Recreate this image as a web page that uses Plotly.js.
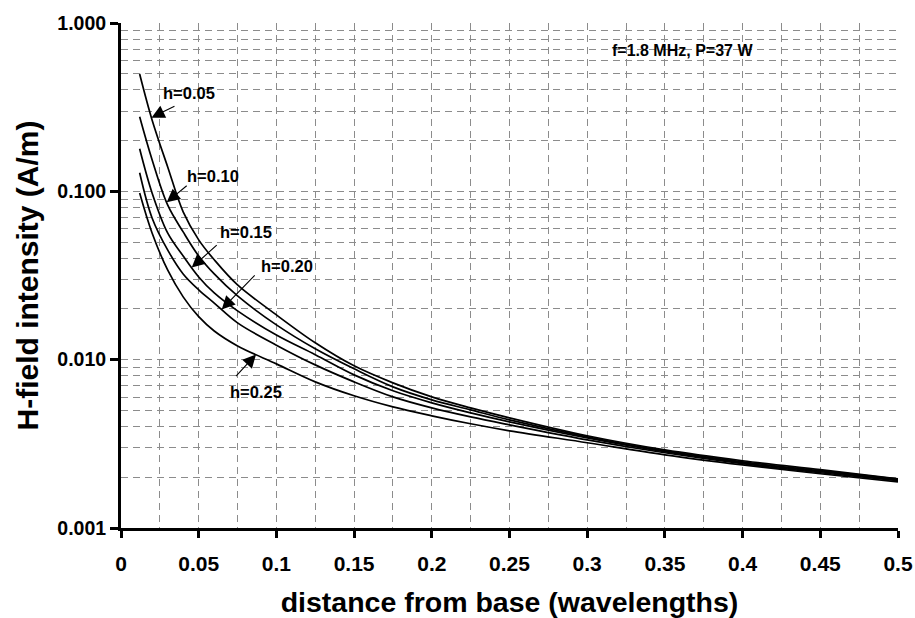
<!DOCTYPE html>
<html>
<head>
<meta charset="utf-8">
<script src="https://cdn.plot.ly/plotly-3.0.1.min.js"></script>
<style>html,body{margin:0;padding:0;background:#fff;}#chart{width:915px;height:618px;}</style>
</head>
<body>
<div id="chart"></div>
<script>
// distance from base (wavelengths)
const distance = [0.012,0.02,0.03,0.04,0.05,0.06,0.075,0.1,0.125,0.15,0.175,0.2,0.225,0.25,0.3,0.35,0.4,0.45,0.5];
// H-field intensity (A/m) for each height h (wavelengths)
const h005 = [0.498,0.2655,0.1400,0.0755,0.0515,0.0392,0.0278,0.01845,0.0126,0.00919,0.00728,0.00601,0.00517,0.00451,0.00353,0.00291,0.00251,0.00222,0.00196];
const h010 = [0.277,0.154,0.0830,0.0574,0.0413,0.0323,0.0239,0.01609,0.0116,0.00882,0.00689,0.00577,0.00503,0.00439,0.00348,0.00287,0.00247,0.00219,0.00195];
const h015 = [0.179,0.0978,0.0566,0.0413,0.0310,0.0249,0.0195,0.0140,0.0107,0.00812,0.00653,0.00554,0.00483,0.00427,0.00343,0.00284,0.00244,0.00216,0.00193];
const h020 = [0.129,0.0695,0.0449,0.0323,0.0260,0.0217,0.01654,0.0122,0.00931,0.00738,0.00601,0.00517,0.00457,0.00410,0.00334,0.00280,0.00241,0.00213,0.00191];
const h025 = [0.0978,0.0566,0.0341,0.0236,0.0180,0.0148,0.01207,0.00944,0.00738,0.00610,0.00524,0.00464,0.00416,0.00378,0.00321,0.00272,0.00237,0.00210,0.00188];

const seriesNames = ['h=0.05','h=0.10','h=0.15','h=0.20','h=0.25'];
const seriesData = [h005,h010,h015,h020,h025];
// x where each label's arrow meets its curve
const labelAt = [0.0196,0.0294,0.0455,0.0648,0.0869];

const yTickVals = [0.001,0.01,0.1,1];
const yTickText = ['0.001','0.010','0.100','1.000'];
const yMinorVals = [];
[0.001,0.01,0.1].forEach(function(d){for(let k=2;k<=9;k++){yMinorVals.push(d*k);}});

const FONT = 'Liberation Sans, Arial, Helvetica, sans-serif';
const GRID = 'rgb(140,140,140)';
const GDASH = '7px,5px';

function interpLog(xs, ys, x){
  for(let i=0;i<xs.length-1;i++){
    if(x>=xs[i] && x<=xs[i+1]){
      const t=(x-xs[i])/(xs[i+1]-xs[i]);
      return Math.pow(10, Math.log10(ys[i])*(1-t)+Math.log10(ys[i+1])*t);
    }
  }
  return ys[0];
}

const traces = seriesData.map(function(ys,i){
  return {x: distance, y: ys, type:'scatter', mode:'lines', name: seriesNames[i],
    line:{color:'#000', width:1.7, shape:'spline', smoothing:1}, showlegend:false, hoverinfo:'skip'};
});

// arrow tails (px offsets from tip) and text offsets
const arrowOff = [[26,-13],[23,-19],[28,-25],[36,-37],[-23,25]];
const textOff = [[38,25],[46,26],[54,36],[65,43],[0,-38]];

const annotations = [];
seriesNames.forEach(function(name,i){
  const xv = labelAt[i];
  const yv = interpLog(distance, seriesData[i], xv);
  annotations.push({x:xv, y:Math.log10(yv), xref:'x', yref:'y', text:' ', showarrow:true,
    ax:arrowOff[i][0], ay:arrowOff[i][1], arrowhead:2, arrowsize:2.4, arrowwidth:1.1, arrowcolor:'#000', standoff:0});
  annotations.push({x:xv, y:Math.log10(yv), xref:'x', yref:'y', text:name, showarrow:false,
    xshift:textOff[i][0], yshift:textOff[i][1], font:{family:FONT, size:16.5, color:'#000', weight:'bold'}});
});
annotations.push({x:0.6293, y:0.9465, xref:'paper', yref:'paper', xanchor:'left', yanchor:'middle',
  text:'f=1.8 MHz, P=37 W', showarrow:false, font:{family:FONT, size:16, color:'#000', weight:'bold'}});

const layout = {
  width:915, height:618,
  margin:{l:121, r:17, t:23, b:90},
  paper_bgcolor:'#fff', plot_bgcolor:'#fff',
  font:{family:FONT, color:'#000'},
  xaxis:{
    range:[0,0.5], tick0:0, dtick:0.05, ticks:'outside', ticklen:7, tickwidth:3, tickcolor:'#000',
    showline:true, linewidth:3, linecolor:'#000', zeroline:false,
    showgrid:true, gridcolor:GRID, gridwidth:1, griddash:GDASH,
    minor:{dtick:0.025, showgrid:true, gridcolor:GRID, gridwidth:1, griddash:GDASH, ticks:''},
    tickfont:{family:FONT, size:21, color:'#000', weight:'bold'}, ticklabelstandoff:8,
    title:{text:'distance from base (wavelengths)', font:{family:FONT, size:28.5, color:'#000', weight:'bold'}, standoff:20}
  },
  yaxis:{
    type:'log', range:[-3,0], tickmode:'array', tickvals:yTickVals, ticktext:yTickText,
    ticks:'outside', ticklen:8, tickwidth:3, tickcolor:'#000',
    showline:true, linewidth:3, linecolor:'#000', zeroline:false,
    showgrid:true, gridcolor:GRID, gridwidth:1, griddash:GDASH,
    minor:{tickmode:'array', tickvals:yMinorVals, showgrid:true, gridcolor:GRID, gridwidth:1, griddash:GDASH, ticks:''},
    tickfont:{family:FONT, size:19.5, color:'#000', weight:'bold'},
    title:{text:'H-field intensity (A/m)', font:{family:FONT, size:30, color:'#000', weight:'bold'}, standoff:10}
  },
  annotations: annotations
};

Plotly.newPlot('chart', traces, layout, {displayModeBar:false, staticPlot:true});
</script>
</body>
</html>
